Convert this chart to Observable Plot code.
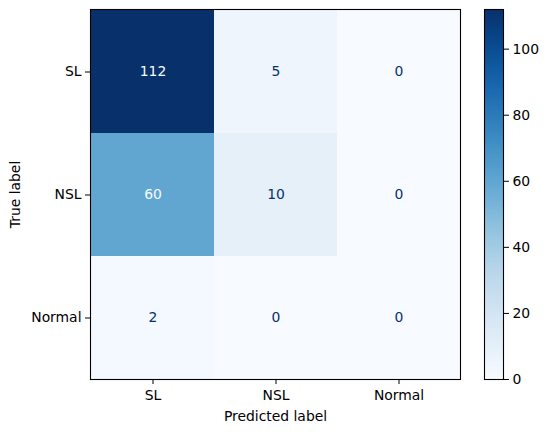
<!DOCTYPE html>
<html>
<head>
<meta charset="utf-8">
<script src="https://cdn.jsdelivr.net/npm/d3@7"></script>
<script src="https://cdn.jsdelivr.net/npm/@observablehq/plot@0.6"></script>
<style>
  body { margin: 0; background: #fff; }
  #wrap { position: relative; width: 548px; height: 432px; }
  #wrap svg { position: absolute; left: 0; top: 0; }
</style>
</head>
<body>
<div id="wrap"></div>
<script>
const trueLabels = ["SL", "NSL", "Normal"];
const predLabels = ["SL", "NSL", "Normal"];
const counts = [
  [112, 5, 0],
  [60, 10, 0],
  [2, 0, 0]
];
const colorTicks = [0, 20, 40, 60, 80, 100];

const cells = [];
trueLabels.forEach((t, i) => predLabels.forEach((p, j) => cells.push({t, p, v: counts[i][j]})));
const vmax = d3.max(cells, d => d.v), vmin = d3.min(cells, d => d.v);
const thresh = (vmax + vmin) / 2;

const font = {fontFamily: "DejaVu Sans", fontSize: "13.9px", background: "transparent", color: "#000"};
const colorOpt = {type: "linear", scheme: "blues", domain: [0, vmax]};

const main = Plot.plot({
  width: 548, height: 432,
  marginLeft: 90, marginRight: 88, marginTop: 9, marginBottom: 53,
  style: font,
  x: {type: "band", domain: predLabels, padding: 0},
  y: {type: "band", domain: trueLabels, padding: 0},
  color: colorOpt,
  marks: [
    Plot.cell(cells, {x: "p", y: "t", fill: "v", inset: 0}),
    Plot.text(cells, {x: "p", y: "t", text: d => String(d.v), fontSize: 13.9,
      fill: d => d.v < thresh ? d3.interpolateBlues(1) : d3.interpolateBlues(0)}),
    Plot.frame({stroke: "#000", strokeWidth: 1.1}),
    Plot.axisX({anchor: "bottom", tickSize: 5, tickPadding: 6, stroke: "#000", fill: "#000",
      label: "Predicted label", labelAnchor: "center", labelArrow: "none", labelOffset: 41}),
    Plot.axisY({anchor: "left", tickSize: 5, tickPadding: 4, stroke: "#000", fill: "#000",
      label: "True label", labelAnchor: "center", labelArrow: "none", labelOffset: 80})
  ]
});

const ramp = d3.range(0, vmax, 0.5);
const bar = Plot.plot({
  width: 548, height: 432,
  marginLeft: 484, marginRight: 45, marginTop: 9, marginBottom: 53,
  style: font,
  x: {domain: [0, 1], axis: null},
  y: {domain: [0, vmax]},
  color: colorOpt,
  marks: [
    Plot.rect(ramp, {x1: 0, x2: 1, y1: d => d, y2: d => Math.min(d + 0.7, vmax), fill: d => d + 0.25,
      shapeRendering: "crispEdges"}),
    Plot.frame({stroke: "#000", strokeWidth: 1.1}),
    Plot.axisY({anchor: "right", ticks: colorTicks, tickFormat: d => String(d), tickSize: 5, tickPadding: 4,
      stroke: "#000", fill: "#000", label: null})
  ]
});
bar.style.pointerEvents = "none";

const wrap = document.getElementById("wrap");
wrap.appendChild(main);
wrap.appendChild(bar);
</script>
</body>
</html>
